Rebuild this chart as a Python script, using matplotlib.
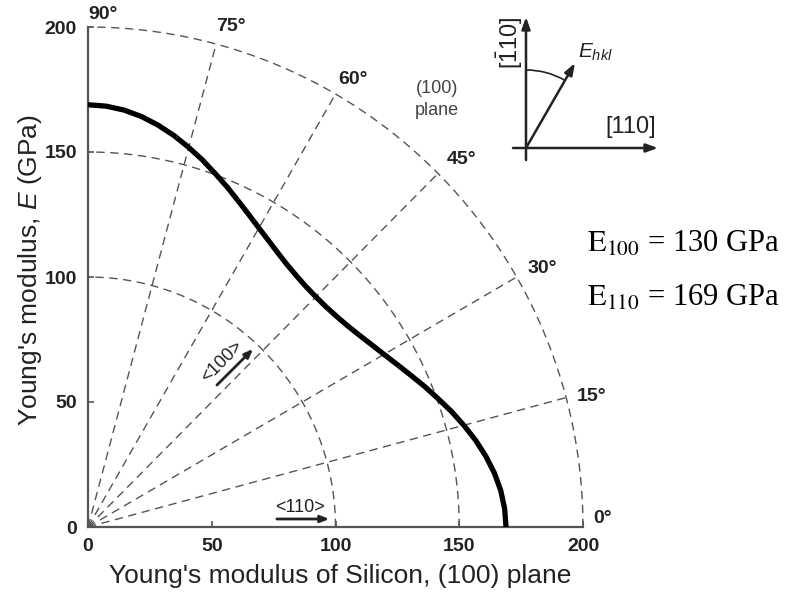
import numpy as np
import matplotlib
matplotlib.use("Agg")
import matplotlib.pyplot as plt
from matplotlib.patches import Arc

plt.rcParams["font.family"] = ["Liberation Sans", "DejaVu Sans"]
plt.rcParams["mathtext.fontset"] = "custom"
plt.rcParams["mathtext.rm"] = "Liberation Sans"
plt.rcParams["mathtext.it"] = "Liberation Sans:italic"

NARROW = ["Liberation Sans Narrow", "Liberation Sans", "DejaVu Sans"]

# Direction in the (100) plane, measured from [110] (degrees)
angle_deg = [0, 2.5, 5, 7.5, 10, 12.5, 15, 17.5, 20, 22.5, 25, 27.5, 30, 32.5,
             35, 37.5, 40, 42.5, 45, 47.5, 50, 52.5, 55, 57.5, 60, 62.5, 65,
             67.5, 70, 72.5, 75, 77.5, 80, 82.5, 85, 87.5, 90]
# Young's modulus along that direction (GPa)
modulus_gpa = [168.9, 168.5, 167.4, 165.6, 163.2, 160.4, 157.2, 153.9, 150.4,
               147.1, 143.8, 140.8, 138.1, 135.8, 133.8, 132.2, 131.1, 130.4,
               130.2, 130.4, 131.1, 132.2, 133.8, 135.8, 138.1, 140.8, 143.8,
               147.1, 150.4, 153.9, 157.2, 160.4, 163.2, 165.6, 167.4, 168.5,
               168.9]

grid_radii = [100, 150, 200]
spoke_angles = [15, 30, 45, 60, 75]
angle_labels = ["0°", "15°", "30°", "45°", "60°", "75°", "90°"]
label_angles = [0, 15, 30, 45, 60, 75, 90]
tick_values = [0, 50, 100, 150, 200]

E100 = 130
E110 = 169

W, H = 789, 599
fig = plt.figure(figsize=(W / 100, H / 100), dpi=100)
ax = fig.add_axes([88 / W, 72 / H, 495 / W, 500 / H])
ax.set_xlim(0, 200)
ax.set_ylim(0, 200)
for s in ["top", "right"]:
    ax.spines[s].set_visible(False)
for s in ["left", "bottom"]:
    ax.spines[s].set_color("#555555")
    ax.spines[s].set_linewidth(1.6)

grid_kw = dict(color="#555555", lw=1.0, ls=(0, (6, 4)), zorder=1)
t = np.linspace(0, np.pi / 2, 200)
for r in grid_radii:
    ax.plot(r * np.cos(t), r * np.sin(t), clip_on=False, **grid_kw)
for a in spoke_angles:
    ar = np.deg2rad(a)
    ax.plot([0, 200 * np.cos(ar)], [0, 200 * np.sin(ar)], **grid_kw)

th = np.deg2rad(angle_deg)
E = np.array(modulus_gpa)
ax.plot(E * np.cos(th), E * np.sin(th), color="black", lw=3.8,
        solid_capstyle="butt", zorder=3, clip_on=False)

# angle labels on the outer circle
label_offsets = [(10, 0), (11, -7), (11, 0), (9, 5), (3, 6), (0, 9), (0, 4)]
for lab, a, (dx, dy) in zip(angle_labels, label_angles, label_offsets):
    ar = np.deg2rad(a)
    ax.annotate(lab, (200 * np.cos(ar), 200 * np.sin(ar)), xytext=(dx, dy),
                textcoords="offset pixels", ha="left", va="bottom",
                fontsize=14, fontweight="bold", family=NARROW,
                color="#222222")

ax.set_xticks(tick_values)
ax.set_yticks(tick_values)
ax.tick_params(direction="in", length=4, width=1.2, color="#555555",
               labelsize=14, pad=8, labelcolor="#222222")
for lbl in ax.get_xticklabels() + ax.get_yticklabels():
    lbl.set_fontweight("bold")
    lbl.set_family(NARROW)

ax.set_xlabel("Young's modulus of Silicon, (100) plane", fontsize=19,
              color="#222222")
ax.xaxis.set_label_coords(0.51, -0.075)
ax.set_ylabel("Young's modulus, $E$ (GPa)", fontsize=19, color="#222222")
ax.yaxis.set_label_coords(-0.088, 0.514)

# crystal direction markers
ax.annotate("", xy=(98.6, 3.2), xytext=(75.2, 3.2),
            arrowprops=dict(arrowstyle="-|>,head_length=0.5,head_width=0.2",
                            color="#222222", lw=2))
ax.text(85.7, 8.0, "<110>", ha="center", va="center", fontsize=13,
        family=NARROW, color="#222222")
ax.annotate("", xy=(67.5, 72), xytext=(51.3, 56),
            arrowprops=dict(arrowstyle="-|>,head_length=0.5,head_width=0.2",
                            color="#222222", lw=2))
ax.text(54.0, 66.2, "<100>", ha="center", va="center", fontsize=13,
        family=NARROW, rotation=45, color="#222222")
ax.text(141, 171, "(100)\nplane", ha="center", va="center", fontsize=13,
        color="#444444", linespacing=1.4)

# overlay in pixel units for the orientation sketch and summary values
ov = fig.add_axes([0, 0, 1, 1], facecolor="none")
ov.set_xlim(0, W)
ov.set_ylim(H, 0)
ov.axis("off")
akw = dict(arrowstyle="-|>,head_length=0.7,head_width=0.25", color="#222222",
           lw=1.8, shrinkA=0, shrinkB=0)
ov.annotate("", xy=(526, 17), xytext=(526, 160), arrowprops=akw)
ov.annotate("", xy=(658, 148), xytext=(513, 148), arrowprops=akw)
ov.annotate("", xy=(575, 63), xytext=(526, 148), arrowprops=akw)
ov.add_patch(Arc((526, 148), 156, 156, theta1=-90, theta2=-60.3,
                 color="#222222", lw=1.2))
ov.text(631, 127, "[110]", ha="center", va="center", fontsize=17,
        color="#222222")
ov.text(510, 43, r"[$\bar{1}$10]", ha="center", va="center", fontsize=17,
        rotation=90, color="#222222")
ov.text(578, 52, r"$E_{hkl}$", ha="left", va="center", fontsize=15,
        color="#222222")

serif = dict(family=["Liberation Serif", "DejaVu Serif"], fontsize=22,
             math_fontfamily="stix", ha="left", va="center", color="black")
ov.text(587, 244, r"$\mathrm{E}_{100}$" + f" = {E100} GPa", **serif)
ov.text(587, 298, r"$\mathrm{E}_{110}$" + f" = {E110} GPa", **serif)

fig.savefig("out.png", dpi=100)
